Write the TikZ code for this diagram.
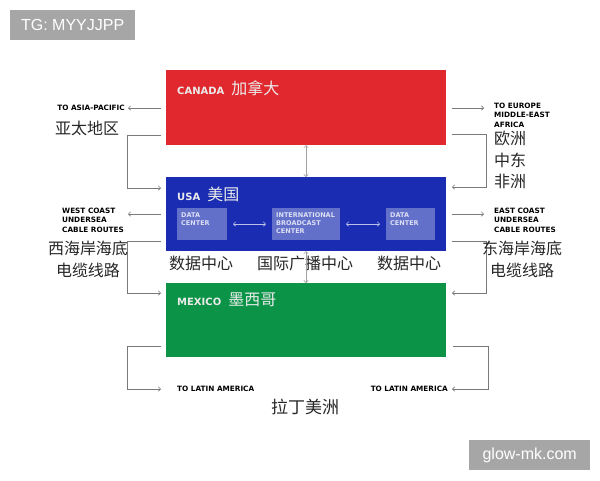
\documentclass[tikz,border=0pt]{standalone}
\usepackage{fontspec}
\usepackage{xcolor}
\usetikzlibrary{arrows.meta}
\setmainfont{Liberation Sans}
\newfontfamily\cjk{Noto Sans CJK SC}
\newfontfamily\capsfont{DejaVu Sans}
\definecolor{CanadaRed}{HTML}{E1282E}
\definecolor{UsaBlue}{HTML}{1A2DB2}
\definecolor{MexicoGreen}{HTML}{0B9448}
\definecolor{LinkGray}{HTML}{7A7A7A}

\begin{document}
\begin{tikzpicture}[x=1pt,y=1pt,yscale=-1,xscale=1,
	region/.style={anchor=north west,minimum width=280pt,minimum height=75pt,inner sep=0pt,outer sep=0pt},
	hub/.style={anchor=north west,fill=white,fill opacity=0.32,text opacity=1,minimum height=32pt,inner sep=0pt,outer sep=0pt},
	hubtext/.style={anchor=north west,inner sep=0pt,align=left,text=white!85!UsaBlue,font=\capsfont\bfseries\fontsize{6.5}{8}\selectfont},
	title/.style={anchor=west,inner sep=0pt,text=white!92!black},
	tag/.style={inner sep=0pt,align=left,font=\capsfont\bfseries\fontsize{7.3}{9.2}\selectfont},
	zh/.style={inner sep=0pt,font=\cjk\fontsize{16}{21.5}\selectfont,text=black!85},
	link/.style={draw=LinkGray,line width=0.7pt,-{Straight Barb[length=2.2pt,width=4.4pt]}},
	biway/.style={draw=LinkGray!70,line width=0.6pt,{Straight Barb[length=2.2pt,width=4.4pt]}-{Straight Barb[length=2.2pt,width=4.4pt]}},
	innerlink/.style={draw=white!70!UsaBlue,line width=0.7pt,shorten <=6pt,shorten >=6pt,{Straight Barb[length=2.2pt,width=4.4pt]}-{Straight Barb[length=2.2pt,width=4.4pt]}},
	stamp/.style={anchor=north west,fill=black!35,text=white,inner sep=0pt,font=\fontsize{16}{16}\selectfont}]

	% Set page to 600 x 480
	\useasboundingbox (0,0) rectangle (600,480);

	% Watermarks
	\node[stamp,minimum width=125pt,minimum height=30pt] (tgmark) at (10,10) {TG: MYYJJPP};
	\node[stamp,minimum width=121pt,minimum height=30pt] (webmark) at (469,440) {glow-mk.com};

	% The three country boxes
	\node[region,fill=CanadaRed] (canada) at (166,70) {};
	\node[region,fill=UsaBlue,minimum height=74pt] (usa) at (166,177) {};
	\node[region,fill=MexicoGreen,minimum height=74pt] (mexico) at (166,283) {};

	% Box titles
	\node[title] (canadalab) at (177,88) {{\capsfont\bfseries\fontsize{10}{10}\selectfont CANADA}\hspace{7pt}{\cjk\fontsize{16}{16}\selectfont 加拿大}};
	\node[title] (usalab) at (177,194) {{\capsfont\bfseries\fontsize{10}{10}\selectfont USA}\hspace{7pt}{\cjk\fontsize{16}{16}\selectfont 美国}};
	\node[title] (mexicolab) at (177,300) {{\capsfont\bfseries\fontsize{10}{10}\selectfont MEXICO}\hspace{7pt}{\cjk\fontsize{16}{16}\selectfont 墨西哥}};

	% Centres inside the USA box
	\node[hub,minimum width=50pt] (dcwest) at (177,208) {};
	\node[hub,minimum width=68pt] (ibc) at (272,208) {};
	\node[hub,minimum width=49pt] (dceast) at (386,208) {};
	\node[hubtext] (dcwesttxt) at (181,212.5) {DATA\\CENTER};
	\node[hubtext] (ibctxt) at (276,212.5) {INTERNATIONAL\\BROADCAST\\CENTER};
	\node[hubtext] (dceasttxt) at (390,212.5) {DATA\\CENTER};
	\draw[innerlink] (dcwest) -- (ibc);
	\draw[innerlink] (ibc) -- (dceast);

	% Chinese names under the USA box
	\node[zh] (dcwestzh) at (201,263) {数据中心};
	\node[zh] (ibczh) at (305,263) {国际广播中心};
	\node[zh] (dceastzh) at (409,263) {数据中心};

	% Links between the boxes
	\draw[biway] (canada.south) -- (usa.north);
	\draw[biway] (usa.south) -- (mexico.north);

	% Canada: Asia-Pacific and Europe
	\coordinate (asiaend) at (128,108);
	\coordinate (europeend) at (484,108);
	\draw[link,shorten <=5pt] (canada.west |- asiaend) -- (asiaend);
	\draw[link,shorten <=6pt] (canada.east |- europeend) -- (europeend);
	\draw[link,shorten <=5pt,shorten >=5pt] (canada.west |- 0,135) -- ++(-39,0) |- (usa.west |- 0,188);
	\draw[link,shorten <=6pt,shorten >=6pt] (canada.east |- 0,134) -- ++(40,0) |- (usa.east |- 0,187);
	\node[tag,anchor=east] (asiatag) at (125,108) {TO ASIA-PACIFIC};
	\node[zh,anchor=west] (asiazh) at (55,128) {亚太地区};
	\node[tag,anchor=north west] (europetag) at (494,103) {TO EUROPE\\MIDDLE-EAST\\AFRICA};
	\node[zh,anchor=north west,align=left] (europezh) at (494,131) {欧洲\\中东\\非洲};

	% USA: undersea cable routes
	\coordinate (westend) at (128,214);
	\coordinate (eastend) at (484,214);
	\draw[link,shorten <=5pt] (usa.west |- westend) -- (westend);
	\draw[link,shorten <=6pt] (usa.east |- eastend) -- (eastend);
	\draw[link,shorten <=5pt,shorten >=5pt] (usa.west |- 0,241) -- ++(-39,0) |- (mexico.west |- 0,293);
	\draw[link,shorten <=6pt,shorten >=6pt] (usa.east |- 0,241) -- ++(40,0) |- (mexico.east |- 0,293);
	\node[tag,anchor=north west] (westtag) at (62,208) {WEST COAST\\UNDERSEA\\CABLE ROUTES};
	\node[zh,align=center] (westzh) at (88,259.5) {西海岸海底\\电缆线路};
	\node[tag,anchor=north west] (easttag) at (494,208) {EAST COAST\\UNDERSEA\\CABLE ROUTES};
	\node[zh,align=center] (eastzh) at (522,259.5) {东海岸海底\\电缆线路};

	% Mexico: Latin America
	\coordinate (latinwest) at (161,389);
	\coordinate (latineast) at (452,389);
	\draw[link,shorten <=5pt] (mexico.west |- 0,346) -- ++(-39,0) |- (latinwest);
	\draw[link,shorten <=7pt] (mexico.east |- 0,346) -- ++(42,0) |- (latineast);
	\node[tag,anchor=west] (latinwtag) at (177,389) {TO LATIN AMERICA};
	\node[tag,anchor=east] (latinetag) at (448,389) {TO LATIN AMERICA};
	\node[zh,font=\cjk\fontsize{17}{17}\selectfont] (latinzh) at (305,407) {拉丁美洲};
\end{tikzpicture}
\end{document}
